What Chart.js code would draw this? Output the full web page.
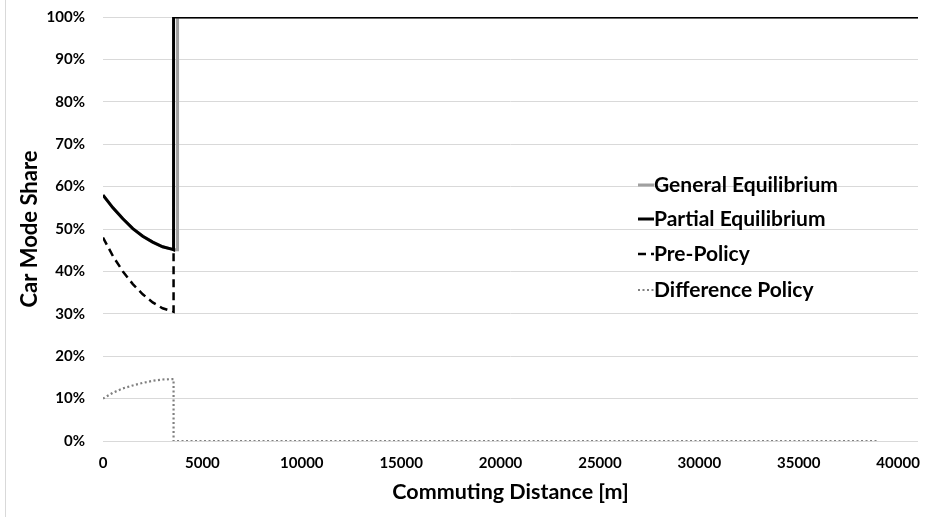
<!DOCTYPE html>
<html>
<head>
<meta charset="utf-8">
<script src="https://cdn.jsdelivr.net/npm/chart.js@4/dist/chart.umd.min.js"></script>
<style>
  html, body { margin: 0; padding: 0; background: #fff; }
  #wrap { position: relative; width: 939px; height: 517px; }
  #frame { position: absolute; left: 5px; top: 0; width: 1px; height: 517px; background: #d9d9d9; }
</style>
</head>
<body>
<div id="wrap">
  <canvas id="modeChart" width="939" height="517"></canvas>
  <div id="frame"></div>
</div>
<script>
// commuting distance [m] for the short-distance curves
const distance   = [0, 500, 1000, 1500, 2000, 2500, 3000, 3500, 3550];
// car mode share [%]
const partialEq  = [58, 55.0, 52.4, 50.1, 48.3, 46.9, 45.8, 45.2, 45.1];
const generalEq  = [58, 55.0, 52.4, 50.1, 48.3, 46.9, 45.8, 45.2, 45.1];
const prePolicy  = [48, 43.6, 40.0, 37.0, 34.6, 32.7, 31.3, 30.6, 30.5];
const diffPolicy = [10, 11.4, 12.4, 13.1, 13.7, 14.2, 14.5, 14.6, 14.6];

const jumpDist = 3550;      // where partial / pre-policy jump to 100%
const generalJump = 3750;   // general equilibrium jumps a bit later
const maxDist = 41000;
const diffEnd = 39000;
const fullShare = 100;
const zeroShare = 0;

const xTicks = [0, 5000, 10000, 15000, 20000, 25000, 30000, 35000, 40000];
const yTicks = [0, 10, 20, 30, 40, 50, 60, 70, 80, 90, 100];

const seriesNames = ['General Equilibrium', 'Partial Equilibrium', 'Pre-Policy', 'Difference Policy'];

function pts(xs, ys) { return xs.map((x, i) => ({x: x, y: ys[i]})); }

const partialData = pts(distance, partialEq).concat([{x: jumpDist, y: fullShare}, {x: maxDist, y: fullShare}]);
const generalData = pts(distance, generalEq).concat([
  {x: generalJump, y: generalEq[generalEq.length - 1]},
  {x: generalJump, y: fullShare}, {x: maxDist, y: fullShare}]);
const preData = pts(distance, prePolicy).concat([
  {x: jumpDist, y: partialEq[partialEq.length - 1]}]);
const diffData = pts(distance, diffPolicy).concat([{x: jumpDist, y: zeroShare}, {x: diffEnd, y: zeroShare}]);

const FONT = 'Lato, "Open Sans", sans-serif';

// legend sits inside the plot, right of centre
const legendPlugin = {
  id: 'insideLegend',
  afterDatasetsDraw(chart) {
    const ctx = chart.ctx;
    const x0 = 638, ys = [185, 219, 254, 290];
    seriesNames.forEach((name, i) => {
      const ds = chart.data.datasets.find(d => d.label === name);
      ctx.save();
      ctx.strokeStyle = ds.borderColor;
      ctx.lineWidth = ds.borderWidth;
      ctx.setLineDash(ds.borderDash || []);
      ctx.beginPath();
      ctx.moveTo(x0, ys[i]);
      ctx.lineTo(x0 + 16, ys[i]);
      ctx.stroke();
      ctx.setLineDash([]);
      ctx.fillStyle = '#000';
      ctx.font = 'bold 21px ' + FONT;
      ctx.textBaseline = 'middle';
      ctx.fillText(name, x0 + 16, ys[i]);
      ctx.restore();
    });
  }
};

new Chart(document.getElementById('modeChart').getContext('2d'), {
  type: 'line',
  data: {
    datasets: [
      { label: 'Partial Equilibrium', data: partialData, borderColor: '#000000', borderWidth: 3, order: 0 },
      { label: 'General Equilibrium', data: generalData, borderColor: '#a0a0a0', borderWidth: 3, order: 1 },
      { label: 'Pre-Policy', data: preData, borderColor: '#000000', borderWidth: 2.5, borderDash: [8, 5], order: 2 },
      { label: 'Difference Policy', data: diffData, borderColor: '#808080', borderWidth: 2.2, borderDash: [2, 2.5], order: 3 }
    ]
  },
  options: {
    responsive: false,
    animation: false,
    elements: { point: { radius: 0 }, line: { tension: 0, fill: false } },
    layout: { padding: { left: 0, right: 21, top: 17, bottom: 0 } },
    plugins: { legend: { display: false }, tooltip: { enabled: false } },
    scales: {
      x: {
        type: 'linear',
        min: 0, max: maxDist,
        grid: { display: false, drawTicks: false },
        border: { display: false },
        afterBuildTicks: s => { s.ticks = xTicks.map(v => ({value: v})); },
        ticks: {
          autoSkip: false,
          maxRotation: 0,
          padding: 13,
          color: '#000',
          font: { family: FONT, size: 15, weight: 'bold' },
          callback: v => String(v)
        },
        title: {
          display: true,
          text: 'Commuting Distance [m]',
          color: '#000',
          font: { family: FONT, size: 21.5, weight: 'bold' },
          padding: { top: 0, bottom: 12 }
        },
        afterFit: s => { s.height = 76; }
      },
      y: {
        min: 0, max: 100,
        grid: { color: '#d9d9d9', lineWidth: 1, drawTicks: false },
        border: { display: false },
        afterBuildTicks: s => { s.ticks = yTicks.map(v => ({value: v})); },
        ticks: {
          padding: 18,
          color: '#000',
          font: { family: FONT, size: 15, weight: 'bold' },
          callback: v => v + '%'
        },
        title: {
          display: true,
          text: 'Car Mode Share',
          color: '#000',
          font: { family: FONT, size: 22, weight: 'bold' },
          padding: { top: 17, bottom: 0 }
        },
        afterFit: s => { s.width = 103; s.paddingTop = 0; s.paddingBottom = 0; }
      }
    }
  },
  plugins: [legendPlugin]
});
</script>
</body>
</html>
